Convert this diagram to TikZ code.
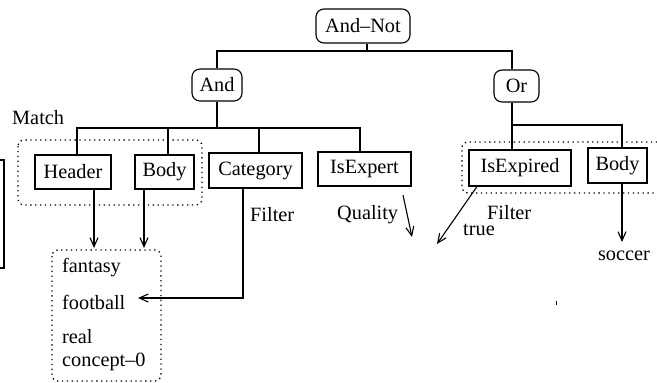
\documentclass[tikz,border=0pt]{standalone}
\usepackage{fontspec}
\setmainfont{Liberation Serif}
\usetikzlibrary{arrows.meta}
\begin{document}
\begin{tikzpicture}[x=1pt,y=-1pt,
  every node/.style={font=\fontsize{20.3}{23}\selectfont, inner sep=0pt},
  opbox/.style={draw, line width=1.1pt, rounded corners=8pt, minimum height=32pt},
  fieldbox/.style={draw, line width=1.1pt, minimum height=34pt},
  conn/.style={line width=1.1pt},
  arr/.style={line width=1.1pt, -{Straight Barb[length=9pt,width=8pt,line width=1.1pt]}},
  dots/.style={line width=1.3pt, dash pattern=on 1.3pt off 3.6pt, rounded corners=6pt},
  lbl/.style={anchor=west}]
\useasboundingbox (0,0) rectangle (657,383);

% operator nodes
\node[opbox, minimum width=94pt, minimum height=34pt] (andnot) at (363,26) {And–Not};
\node[opbox, minimum width=50pt] (and) at (217,85) {And};
\node[opbox, minimum width=45pt] (or) at (516.5,86) {Or};

% field nodes
\node[fieldbox, minimum width=76pt] (header) at (73,172) {Header};
\node[fieldbox, minimum width=59pt] (body) at (164.5,172) {Body};
\node[fieldbox, minimum width=93pt, minimum height=35pt] (category) at (255.5,170.5) {Category};
\node[fieldbox, minimum width=93pt] (isexpert) at (364.5,169) {IsExpert};
\node[fieldbox, minimum width=102pt, minimum height=36pt] (isexpired) at (520,168) {IsExpired};
\node[fieldbox, minimum width=59pt, minimum height=35pt] (body2) at (617.5,165.5) {Body};

% tree connectors
\coordinate (j1) at (367,51);
\coordinate (j2) at (217,128);
\coordinate (j3) at (512,125);
\draw[conn] (j1 |- andnot.south) -- (j1);
\draw[conn] (and.north) |- (j1) -| ([xshift=-4.5pt]or.north);
\draw[conn] (and.south) -- (j2);
\draw[conn] ([xshift=4pt]header.north) |- (j2) -| ([xshift=-4.5pt]isexpert.north);
\draw[conn] ([xshift=3.5pt]body.north) -- ([xshift=3.5pt]body.north |- j2);
\draw[conn] ([xshift=3.5pt]category.north) -- ([xshift=3.5pt]category.north |- j2);
\draw[conn] ([xshift=-4.5pt]or.south) -- ([xshift=-8pt]isexpired.north);
\draw[conn] (j3) -| ([xshift=4.5pt]body2.north);

% dotted groups
\draw[dots] (18,140) rectangle (202,205);
\draw[dots] (662,142) -- (462,142) -- (462,193) -- (662,193);
\draw[dots] (52,250) rectangle (161,381);

% labels
\node[lbl] (match) at (12,118) {Match};
\node[lbl] (filter1) at (250,215) {Filter};
\node[lbl] (quality) at (337,215) {Quality};
\node[lbl] (truel) at (463,230) {true};
\node[lbl] (filter2) at (487,213) {Filter};
\node (soccer) at (624,256) {soccer};

% list
\node[lbl] (fantasy) at (62,268) {fantasy};
\node[lbl] (football) at (62,302) {football};
\node[lbl] (real) at (62,337) {real};
\node[lbl] (concept) at (62,362) {concept–0};

% arrows
\coordinate (hdrtip) at (94,248);
\coordinate (bodytip) at (144,248);
\coordinate (foottip) at (138,298);
\coordinate (qstart) at (403,195);
\coordinate (qtip) at (412,237);
\coordinate (trtip) at (437,244);
\coordinate (soctip) at (622,242);
\draw[arr] ([xshift=21pt]header.south) -- (hdrtip);
\draw[arr] ([xshift=-20.5pt]body.south) -- (bodytip);
\draw[arr] ([xshift=-12.5pt]category.south) |- (foottip);
\draw[arr] (qstart) -- (qtip);
\draw[arr] ([xshift=-43pt]isexpired.south) -- (trtip);
\draw[arr] ([xshift=4.5pt]body2.south) -- (soctip);

% partial box at left edge
\draw[conn] (0,160) -- (4,160) -- (4,268) -- (0,268);
% small stray mark
\draw[line width=0.9pt] (556,301) -- (556,305);
\end{tikzpicture}
\end{document}
